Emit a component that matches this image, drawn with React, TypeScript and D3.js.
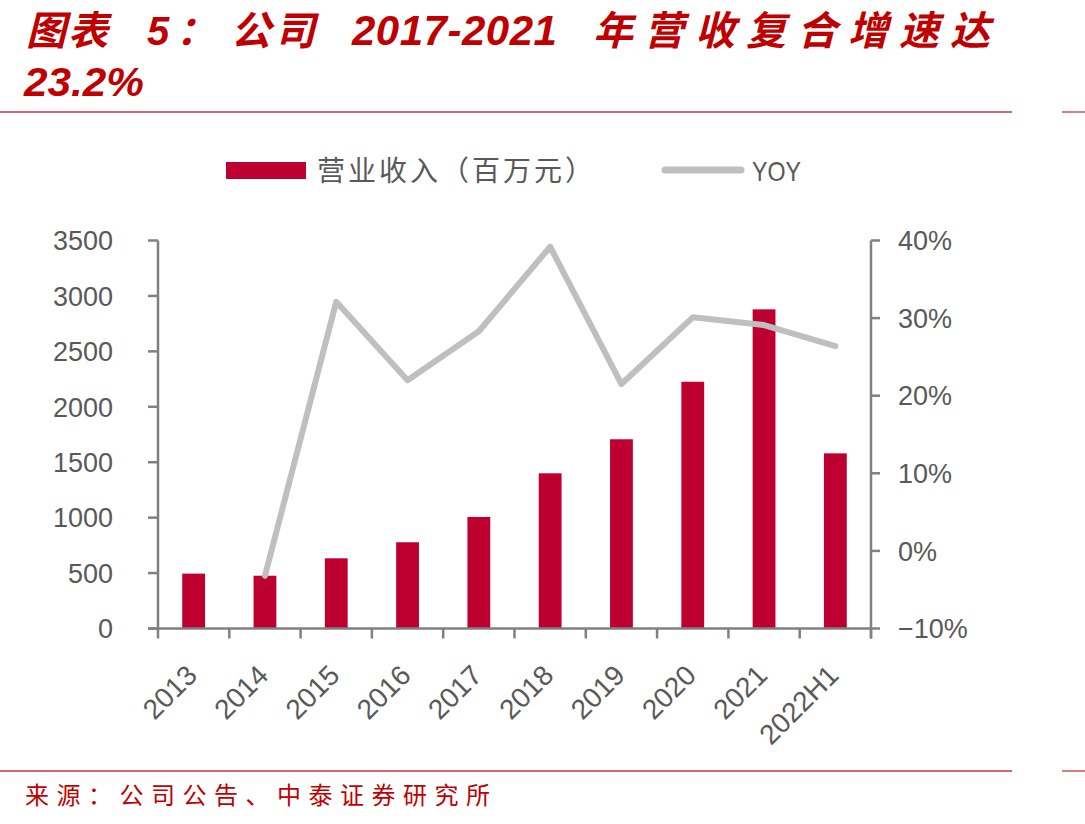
import React from 'react'
import * as d3 from 'd3'

// data
const categories = ['2013', '2014', '2015', '2016', '2017', '2018', '2019', '2020', '2021', '2022H1']
const revenue = [495, 476, 633, 778, 1006, 1400, 1707, 2226, 2879, 1580]
const yoy: (number | null)[] = [null, -3.2, 32.1, 22.0, 28.3, 39.2, 21.5, 30.1, 29.1, 26.4]
const leftTicks = [0, 500, 1000, 1500, 2000, 2500, 3000, 3500]
const rightTicks = [-10, 0, 10, 20, 30, 40]

const W = 1085
const H = 824
const RED = '#C00000'
const BAR = '#BE0030'
const GRAY_LINE = '#BFBFBF'
const AXIS = '#808080'
const LABEL = '#595959'
const SANS = '"Liberation Sans", Arial, "Noto Sans CJK SC", sans-serif'
const CJK = '"Noto Sans CJK SC", "Liberation Sans", sans-serif'

export default function App() {
  const x0 = 158
  const x1 = 871
  const yTop = 240.5
  const yBottom = 628.5

  const x = d3.scaleBand<string>().domain(categories).range([x0, x1]).paddingInner(0.68).paddingOuter(0.34)
  const band = d3.scaleBand<string>().domain(categories).range([x0, x1])
  const yL = d3.scaleLinear().domain([0, 3500]).range([yBottom, yTop])
  const yR = d3.scaleLinear().domain([-10, 40]).range([yBottom, yTop])

  const line = d3.line<number | null>()
    .defined(d => d !== null)
    .x((_, i) => band(categories[i])! + band.bandwidth() / 2)
    .y(d => yR(d as number))

  return (
    <svg width={W} height={H} style={{ position: 'absolute', left: 0, top: 0, background: '#fff' }}>
      {/* title */}
      <text y={45} fontWeight="bold" fontStyle="italic" fill={RED}>
        <tspan x={26} fontFamily={CJK} fontSize={40} letterSpacing={2}>图表</tspan>
        <tspan x={147} fontFamily={SANS} fontSize={40}>5</tspan>
        <tspan x={176} fontFamily={CJK} fontSize={40}>：</tspan>
        <tspan x={231} fontFamily={CJK} fontSize={40} letterSpacing={4}>公司</tspan>
        <tspan x={352} fontFamily={SANS} fontSize={42} letterSpacing={0.5}>2017-2021</tspan>
        <tspan x={593} fontFamily={CJK} fontSize={40} letterSpacing={11}>年营收复合增速达</tspan>
      </text>
      <text x={24} y={96} fontFamily={SANS} fontSize={40} fontWeight="bold" fontStyle="italic" fill={RED}
        textLength={120} lengthAdjust="spacingAndGlyphs">
        23.2%
      </text>
      <line x1={0} x2={1012} y1={112} y2={112} stroke="#C8363A" strokeWidth={1.3} />
      <line x1={1062} x2={W} y1={112} y2={112} stroke="#C8363A" strokeWidth={1.3} />

      {/* legend */}
      <rect x={226} y={162} width={80} height={17} fill={BAR} />
      <text x={317} y={181} fontFamily={CJK} fontSize={28} fill={LABEL} letterSpacing={3}>营业收入（百万元）</text>
      <line x1={665} x2={741} y1={170} y2={170} stroke={GRAY_LINE} strokeWidth={7} strokeLinecap="round" />
      <text x={752} y={181} fontFamily={SANS} fontSize={28} fill={LABEL} textLength={49} lengthAdjust="spacingAndGlyphs">YOY</text>

      {/* bars */}
      {revenue.map((v, i) => (
        <rect key={categories[i]} x={x(categories[i])} y={yL(v)} width={x.bandwidth()} height={yL(0) - yL(v)} fill={BAR} />
      ))}

      {/* yoy line */}
      <path d={line(yoy) || ''} fill="none" stroke={GRAY_LINE} strokeWidth={6} strokeLinejoin="round" strokeLinecap="round" />

      {/* left axis */}
      <line x1={x0} x2={x0} y1={yTop} y2={yBottom + 10} stroke={AXIS} strokeWidth={2.5} />
      {leftTicks.map(t => (
        <g key={t}>
          <line x1={x0 - 10} x2={x0} y1={yL(t)} y2={yL(t)} stroke={AXIS} strokeWidth={2.5} />
          <text x={113} y={yL(t)} dy="0.36em" textAnchor="end" fontFamily={SANS} fontSize={27} fill={LABEL}>{t}</text>
        </g>
      ))}

      {/* right axis */}
      <line x1={x1} x2={x1} y1={yTop} y2={yBottom + 10} stroke={AXIS} strokeWidth={2.5} />
      {rightTicks.map(t => (
        <g key={t}>
          <line x1={x1} x2={x1 + 9} y1={yR(t)} y2={yR(t)} stroke={AXIS} strokeWidth={2.5} />
          <text x={898} y={yR(t)} dy="0.36em" fontFamily={SANS} fontSize={27} fill={LABEL}>
            {t < 0 ? `\u2212${Math.abs(t)}%` : `${t}%`}
          </text>
        </g>
      ))}

      {/* x axis */}
      <line x1={x0 - 10} x2={x1} y1={yBottom} y2={yBottom} stroke={AXIS} strokeWidth={2.5} />
      {categories.map(c => (
        <line key={'t' + c} x1={band(c)! + band.bandwidth()} x2={band(c)! + band.bandwidth()} y1={yBottom} y2={yBottom + 10} stroke={AXIS} strokeWidth={2.5} />
      ))}
      {categories.map(c => {
        const cx = band(c)! + band.bandwidth() / 2
        return (
          <text key={'l' + c} transform={`translate(${cx + 5},${677}) rotate(-45)`} textAnchor="end"
            fontFamily={SANS} fontSize={28} fill={LABEL}>{c}</text>
        )
      })}

      {/* source */}
      <line x1={0} x2={1012} y1={771} y2={771} stroke="#C8363A" strokeWidth={1.3} />
      <line x1={1062} x2={W} y1={771} y2={771} stroke="#C8363A" strokeWidth={1.3} />
      <text x={25} y={804} fontFamily={CJK} fontSize={24} fill={RED} textLength={465} lengthAdjust="spacing">
        来源：公司公告、中泰证券研究所
      </text>
    </svg>
  )
}
